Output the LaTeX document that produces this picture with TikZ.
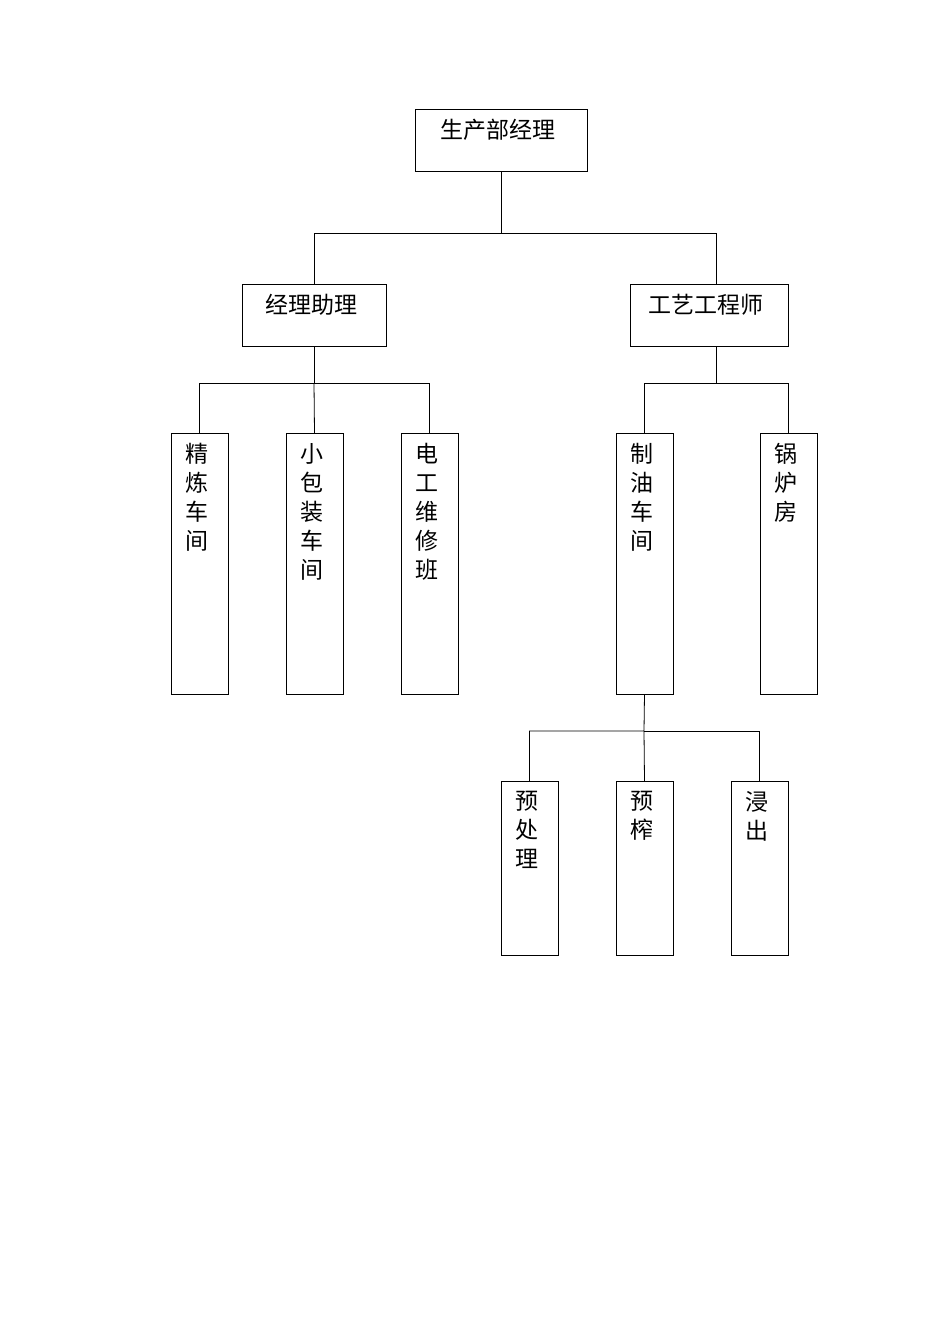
\documentclass[tikz,border=0pt]{standalone}
\usepackage{fontspec}
\newfontfamily\cjk{Noto Sans CJK SC}
\begin{document}
\begin{tikzpicture}[x=1pt,y=-1pt,
  hbox/.style={draw,line width=0.8pt,anchor=north west,inner sep=0pt},
  vtext/.style={anchor=north,align=center,font=\cjk\fontsize{23}{29}\selectfont,inner sep=0pt},
  conn/.style={line width=0.8pt}]
\useasboundingbox (0,0) rectangle (950,1344);
\newcommand{\bx}[6]{% name x1 y1 x2 y2 text
  \draw[line width=0.8pt] (#2,#3) rectangle (#4,#5);
  \coordinate (#1t) at ({(#2+#4)/2},#3);
  \coordinate (#1b) at ({(#2+#4)/2},#5);
  \node[vtext] (#1) at ({(#2+#4)/2-3},#3+10) {#6};}
\bx{top}{415}{109}{587}{171}{生产部经理}
\bx{zl}{242}{284}{386}{346}{经理助理}
\bx{gy}{630}{284}{788}{346}{工艺工程师}
\bx{jl}{171}{433}{228}{694}{精\\炼\\车\\间}
\bx{xb}{286}{433}{343}{694}{小\\包\\装\\车\\间}
\bx{dg}{401}{433}{458}{694}{电\\工\\维\\修\\班}
\bx{zy}{616}{433}{673}{694}{制\\油\\车\\间}
\bx{gl}{760}{433}{817}{694}{锅\\炉\\房}
\bx{ycl}{501}{781}{558}{955}{预\\处\\理}
\bx{yz}{616}{781}{673}{955}{预\\榨}
\bx{jc}{731}{781}{788}{955}{浸\\出}
\coordinate (gyt2) at (716,284);
\coordinate (gyb2) at (716,346);
\draw[conn] (topb) -- (501,233) -| (zlt);
\draw[conn] (501,233) -| (gyt2);
\draw[conn] (zlb) -- (314,383) -| (jlt);
\draw[conn] (314,383) -- (xbt);
\draw[conn] (314,383) -| (dgt);
\draw[conn] (gyb2) -- (716,383) -| (zyt);
\draw[conn] (716,383) -| (glt);
\draw[conn] (zyb) -- (644,731) -| (yclt);
\draw[conn] (644,731) -- (yzt);
\draw[conn] (644,731) -| (jct);
\end{tikzpicture}
\end{document}
